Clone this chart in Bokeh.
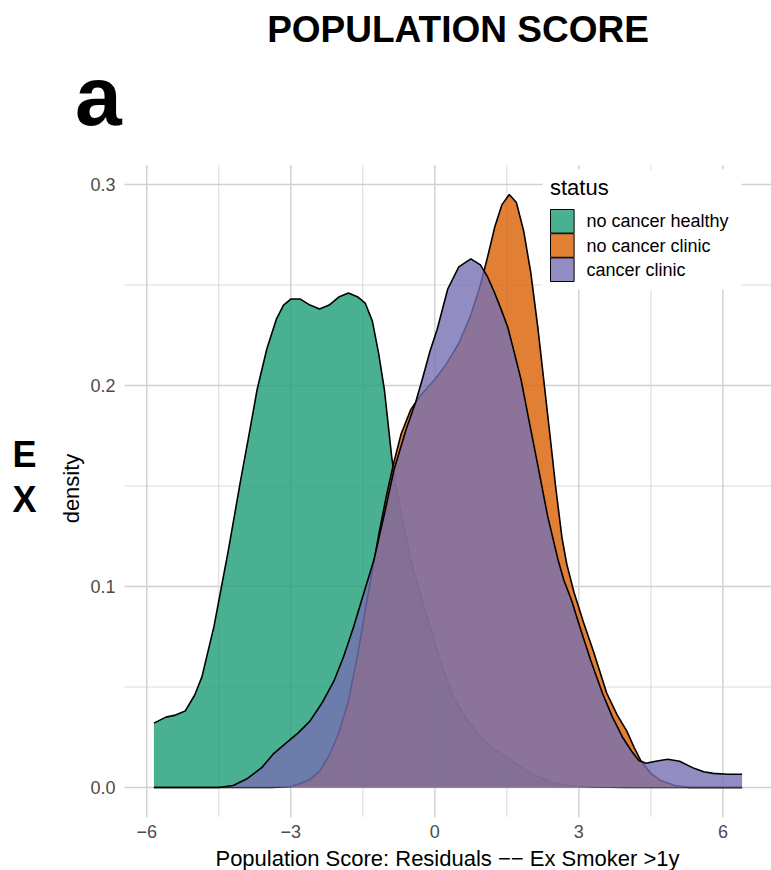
import math
from bokeh.plotting import figure
from bokeh.models import Range1d, Label, LabelSet, ColumnDataSource
from bokeh.core.properties import value
from bokeh.embed import file_html
from bokeh.resources import INLINE

FONT = "Liberation Sans"
W, H = 771, 870

# Kernel density estimates of the population score residuals, by status
status_labels = ["no cancer healthy", "no cancer clinic", "cancer clinic"]
status_colors = ["#1B9E77", "#D95F02", "#7570B3"]

healthy_x = [-5.85, -5.6, -5.4, -5.2, -5.0, -4.85, -4.6, -4.3, -4.05, -3.85,
             -3.7, -3.5, -3.3, -3.15, -3.0, -2.8, -2.6, -2.4, -2.2, -2.0,
             -1.8, -1.6, -1.45, -1.3, -1.17, -1.05, -0.9, -0.8, -0.7, -0.5,
             -0.25, 0.0, 0.2, 0.4, 0.7, 0.95, 1.25, 1.5, 1.8, 2.1, 2.5, 2.9,
             3.3, 4.0, 5.0, 6.4]
healthy_density = [0.032, 0.035, 0.036, 0.038, 0.046, 0.055, 0.080, 0.118,
                   0.152, 0.178, 0.198, 0.218, 0.233, 0.240, 0.243, 0.243,
                   0.240, 0.238, 0.240, 0.244, 0.246, 0.244, 0.241, 0.232,
                   0.216, 0.198, 0.165, 0.148, 0.137, 0.113, 0.092, 0.072,
                   0.057, 0.044, 0.033, 0.025, 0.019, 0.015, 0.010, 0.006,
                   0.002, 0.0007, 0.0002, 0.0, 0.0, 0.0]

clinic_x = [-5.85, -4.5, -3.4, -3.0, -2.8, -2.6, -2.4, -2.2, -2.0, -1.8,
            -1.6, -1.45, -1.3, -1.15, -1.0, -0.85, -0.7, -0.5, -0.3, 0.0,
            0.25, 0.5, 0.75, 0.95, 1.1, 1.25, 1.4, 1.55, 1.7, 1.85, 2.0,
            2.15, 2.27, 2.4, 2.52, 2.65, 2.75, 2.9, 3.1, 3.3, 3.58, 3.8, 4.0,
            4.15, 4.29, 4.5, 4.7, 5.0, 5.3, 6.4]
clinic_density = [0.0, 0.0, 0.0, 0.0005, 0.002, 0.004, 0.008, 0.016, 0.027,
                  0.043, 0.067, 0.088, 0.108, 0.128, 0.146, 0.162, 0.176,
                  0.188, 0.195, 0.203, 0.211, 0.221, 0.235, 0.250, 0.264,
                  0.279, 0.290, 0.295, 0.291, 0.277, 0.256, 0.228, 0.2025,
                  0.175, 0.149, 0.124, 0.111, 0.097, 0.082, 0.068, 0.047,
                  0.036, 0.028, 0.020, 0.0134, 0.007, 0.0035, 0.001, 0.0, 0.0]

cancer_x = [-5.85, -4.5, -4.2, -3.9, -3.6, -3.35, -3.1, -2.85, -2.6, -2.35,
            -2.1, -1.9, -1.69, -1.5, -1.27, -1.05, -0.85, -0.6, -0.4, -0.25,
            -0.1, 0.05, 0.27, 0.5, 0.75, 0.95, 1.1, 1.23, 1.38, 1.52, 1.66,
            1.8, 1.95, 2.14, 2.35, 2.57, 2.69, 2.85, 3.02, 3.25, 3.49, 3.7,
            3.91, 4.1, 4.25, 4.4, 4.6, 4.85, 5.1, 5.4, 5.6, 5.8, 6.1, 6.4]
cancer_density = [0.0, 0.0, 0.001, 0.0045, 0.010, 0.017, 0.022, 0.027, 0.033,
                  0.042, 0.053, 0.065, 0.080, 0.095, 0.113, 0.136, 0.158,
                  0.178, 0.1915, 0.204, 0.217, 0.228, 0.248, 0.259, 0.263,
                  0.260, 0.254, 0.247, 0.238, 0.229, 0.216, 0.2025, 0.184,
                  0.161, 0.135, 0.113, 0.103, 0.093, 0.080, 0.063, 0.047,
                  0.035, 0.025, 0.018, 0.0134, 0.012, 0.013, 0.014, 0.013,
                  0.0095, 0.0078, 0.007, 0.0066, 0.0066]

x_ticks = [-6, -3, 0, 3, 6]
x_tick_labels = ["\u22126", "\u22123", "0", "3", "6"]
x_minor = [-4.5, -1.5, 1.5, 4.5]
y_ticks = [0.0, 0.1, 0.2, 0.3]
y_tick_labels = ["0.0", "0.1", "0.2", "0.3"]
y_minor = [0.05, 0.15, 0.25]

series = [(healthy_x, healthy_density), (clinic_x, clinic_density),
          (cancer_x, cancer_density)]

# panel = data range expanded by 5% on each side, placed inside the canvas
P_LEFT, P_RIGHT, P_TOP, P_BOTTOM = 124.0, 771.0, 164.4, 816.6
all_x = healthy_x + clinic_x + cancer_x
all_y = healthy_density + clinic_density + cancer_density
x_lo, x_hi = min(all_x), max(all_x)
y_lo, y_hi = 0.0, max(all_y)
x_pad = 0.05 * (x_hi - x_lo)
y_pad = 0.05 * (y_hi - y_lo)
px0, px1 = x_lo - x_pad, x_hi + x_pad
py0, py1 = y_lo - y_pad, y_hi + y_pad

sx = (P_RIGHT - P_LEFT) / (px1 - px0)
sy = (P_BOTTOM - P_TOP) / (py1 - py0)
x_start = px0 - P_LEFT / sx
y_start = py0 - (H - P_BOTTOM) / sy


def X(px):
    return x_start + px / sx


def Y(py):
    return y_start + (H - py) / sy


p = figure(width=W, height=H, output_backend="svg", toolbar_location=None,
           x_range=Range1d(x_start, x_start + W / sx),
           y_range=Range1d(y_start, y_start + H / sy),
           min_border=0, x_axis_location=None, y_axis_location=None,
           outline_line_color=None, background_fill_color="white",
           border_fill_color="white")
p.grid.visible = False

# panel grid (minor then major)
GRID = "#D0D0D0"
p.segment(x0=x_minor, y0=[py0] * len(x_minor), x1=x_minor,
          y1=[py1] * len(x_minor), line_color="#DCDCDC", line_width=1.1)
p.segment(x0=[px0] * len(y_minor), y0=y_minor, x1=[px1] * len(y_minor),
          y1=y_minor, line_color="#DCDCDC", line_width=1.1)
p.segment(x0=x_ticks, y0=[py0] * len(x_ticks), x1=x_ticks,
          y1=[py1] * len(x_ticks), line_color=GRID, line_width=1.4)
p.segment(x0=[px0] * len(y_ticks), y0=y_ticks, x1=[px1] * len(y_ticks),
          y1=y_ticks, line_color=GRID, line_width=1.4)

# density areas, outline only along the curve, drawn in group order
for (xs, ys), col in zip(series, status_colors):
    p.varea(x=xs, y1=[0.0] * len(xs), y2=ys, fill_color=col, fill_alpha=0.8)
    p.line(xs, ys, line_color="black", line_width=1.6)

# y tick labels at the tick values
y_lab_src = ColumnDataSource(dict(x=[115] * len(y_ticks), y=y_ticks,
                                  text=y_tick_labels))
p.add_layout(LabelSet(x="x", y="y", text="text", source=y_lab_src,
                      x_units="screen", y_units="data",
                      text_font=value(FONT), text_font_size="18px",
                      text_color="#4D4D4D", text_align="right",
                      text_baseline="middle"))

# x tick labels at the tick values
for tick, tick_text in zip(x_ticks, x_tick_labels):
    p.add_layout(Label(x=tick, y=H - 830.5, x_units="data", y_units="screen",
                       text=tick_text, text_font=FONT, text_font_size="18px",
                       text_color="#4D4D4D", text_align="center",
                       text_baseline="middle"))


def label(text, x, y, size, bold=False, align="left", angle=0.0,
          color="black"):
    p.add_layout(Label(x=x, y=H - y, x_units="screen", y_units="screen",
                       text=text, text_font=FONT, text_font_size=size,
                       text_font_style="bold" if bold else "normal",
                       text_align=align, text_baseline="middle",
                       angle=angle, text_color=color))


# axis titles
label("Population Score: Residuals \u2212\u2212 Ex Smoker >1y", 447, 858,
      "22px", align="center")
label("density", 70.5, 488, "22px", align="center", angle=math.pi / 2)

# legend
p.quad(left=[X(542)], right=[X(741)], top=[Y(169)], bottom=[Y(289)],
       fill_color="white", line_color=None)
label("status", 549.5, 187, "22px")
KEY_TOP, KEY_STEP, KEY_SIZE = 209.0, 24.2, 23.6
for i, (lab, col) in enumerate(zip(status_labels, status_colors)):
    top = KEY_TOP + i * KEY_STEP
    p.quad(left=[X(550)], right=[X(550 + KEY_SIZE)], top=[Y(top)],
           bottom=[Y(top + KEY_SIZE)], fill_color=col, fill_alpha=0.8,
           line_color="black", line_width=1)
    label(lab, 586, top + KEY_SIZE / 2, "18px")

# headings
label("POPULATION SCORE", 457.5, 28.5, "37px", bold=True, align="center")
label("a", 74.6, 95, "84px", bold=True)
label("E", 24, 453.5, "36px", bold=True, align="center")
label("X", 24, 498.5, "36px", bold=True, align="center")

open("out.html", "w").write(file_html(p, INLINE))
